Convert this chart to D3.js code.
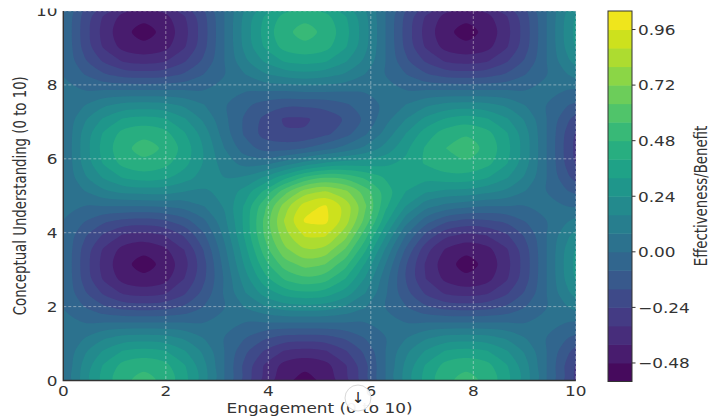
<!DOCTYPE html>
<html>
<head>
<meta charset="utf-8">
<script src="https://cdn.jsdelivr.net/npm/d3@7"></script>
<style>
  body { margin: 0; background: #fff; }
  text { font-family: "DejaVu Sans", sans-serif; fill: #333; }
</style>
</head>
<body>
<svg id="viz" width="711" height="419"></svg>
<script>
// grid positions where the surface was read (steps of pi/8)
const xGrid = [0, 0.393, 0.785, 1.178, 1.571, 1.963, 2.356, 2.749, 3.142, 3.534, 3.927, 4.320, 4.712, 5.105,
  5.498, 5.890, 6.283, 6.676, 7.069, 7.461, 7.854, 8.247, 8.639, 9.032, 9.425, 9.817, 10.21];
const yGrid = [0, 0.393, 0.785, 1.178, 1.571, 1.963, 2.356, 2.749, 3.142, 3.534, 3.927, 4.320, 4.712, 5.105,
  5.498, 5.890, 6.283, 6.676, 7.069, 7.461, 7.854, 8.247, 8.639, 9.032, 9.425, 9.817, 10.21];

// effectiveness values, one row per yGrid entry (bottom row first)
const zRows = [
  [0,.19,.35,.46,.51,.46,.35,.19,0,-.19,-.35,-.46,-.51,-.46,-.35,-.19,0,.19,.35,.46,.51,.46,.35,.19,0,-.19,-.35],
  [0,.18,.33,.43,.46,.43,.33,.18,0,-.18,-.33,-.43,-.46,-.43,-.33,-.18,0,.18,.33,.43,.46,.43,.33,.18,0,-.18,-.33],
  [0,.14,.25,.33,.35,.33,.25,.14,0,-.14,-.25,-.33,-.35,-.33,-.25,-.14,0,.14,.25,.33,.35,.33,.25,.14,0,-.14,-.25],
  [0,.07,.14,.18,.19,.18,.14,.07,0,-.07,-.14,-.18,-.19,-.18,-.14,-.07,0,.07,.14,.18,.19,.18,.14,.07,0,-.07,-.14],
  [0,0,0,0,0,0,0,0,0,0,0,0,0,0,0,0,0,0,0,0,0,0,0,0,0,0,0],
  [0,-.07,-.14,-.18,-.19,-.18,-.14,-.07,0,.08,.14,.19,.20,.19,.14,.08,0,-.07,-.14,-.18,-.19,-.18,-.14,-.07,0,.07,.14],
  [0,-.14,-.25,-.33,-.35,-.33,-.25,-.13,.01,.15,.27,.35,.38,.36,.28,.16,.01,-.13,-.25,-.33,-.35,-.33,-.25,-.14,0,.14,.25],
  [0,-.18,-.33,-.43,-.46,-.43,-.32,-.17,.01,.20,.37,.49,.54,.51,.40,.23,.03,-.16,-.32,-.42,-.46,-.43,-.33,-.18,0,.18,.33],
  [0,-.19,-.35,-.46,-.51,-.46,-.35,-.18,.03,.25,.45,.60,.67,.64,.51,.31,.08,-.15,-.33,-.45,-.51,-.46,-.35,-.19,0,.19,.35],
  [0,-.18,-.33,-.43,-.46,-.42,-.32,-.15,.06,.29,.52,.70,.79,.77,.63,.41,.15,-.09,-.29,-.41,-.46,-.43,-.33,-.18,0,.18,.33],
  [0,-.14,-.25,-.33,-.35,-.32,-.23,-.09,.10,.33,.57,.77,.89,.89,.75,.51,.25,0,-.18,-.30,-.34,-.32,-.25,-.14,0,.14,.25],
  [0,-.07,-.14,-.18,-.19,-.17,-.11,-.01,.14,.34,.58,.81,.97,.98,.84,.61,.35,.12,-.04,-.14,-.18,-.17,-.14,-.07,0,.07,.14],
  [0,0,0,0,0,.01,.03,.08,.17,.33,.54,.76,.92,.97,.85,.65,.42,.24,.11,.05,.02,0,0,0,0,0,0],
  [0,.07,.14,.18,.19,.19,.16,.15,.18,.27,.42,.61,.76,.81,.74,.60,.44,.32,.25,.22,.21,.18,.14,.07,0,-.07,-.14],
  [0,.14,.25,.33,.36,.34,.28,.20,.16,.17,.25,.37,.49,.55,.53,.46,.39,.35,.35,.37,.37,.33,.25,.14,0,-.14,-.25],
  [0,.18,.33,.43,.46,.43,.35,.23,.12,.05,.05,.11,.18,.24,.27,.28,.30,.34,.41,.46,.47,.43,.33,.18,0,-.18,-.33],
  [0,.19,.35,.46,.51,.47,.37,.23,.08,-.04,-.11,-.11,-.08,-.03,.03,.10,.19,.30,.41,.48,.52,.46,.35,.19,0,-.19,-.35],
  [0,.18,.33,.43,.46,.43,.33,.20,.04,-.09,-.19,-.23,-.23,-.18,-.11,-.01,.11,.24,.36,.44,.47,.43,.33,.18,0,-.18,-.33],
  [0,.14,.25,.33,.35,.33,.25,.14,.02,-.09,-.18,-.25,-.25,-.21,-.15,-.06,.05,.16,.26,.33,.36,.33,.25,.14,0,-.14,-.25],
  [0,.07,.14,.18,.19,.18,.14,.08,.01,-.06,-.11,-.14,-.14,-.13,-.09,-.04,.02,.08,.14,.18,.19,.18,.14,.07,0,-.07,-.14],
  [0,0,0,0,0,0,0,0,0,.01,.01,.01,.02,.02,.01,.01,.01,0,0,0,0,0,0,0,0,0,0],
  [0,-.07,-.14,-.18,-.19,-.18,-.14,-.07,0,.07,.14,.18,.20,.18,.14,.07,0,-.07,-.14,-.18,-.19,-.18,-.14,-.07,0,.07,.14],
  [0,-.14,-.25,-.33,-.35,-.33,-.25,-.14,0,.14,.25,.33,.35,.33,.25,.14,0,-.14,-.25,-.33,-.35,-.33,-.25,-.14,0,.14,.25],
  [0,-.18,-.33,-.43,-.46,-.43,-.33,-.18,0,.18,.33,.43,.46,.43,.33,.18,0,-.18,-.33,-.43,-.46,-.43,-.33,-.18,0,.18,.33],
  [0,-.19,-.35,-.46,-.51,-.46,-.35,-.19,0,.19,.35,.46,.51,.46,.35,.19,0,-.19,-.35,-.46,-.51,-.46,-.35,-.19,0,.19,.35],
  [0,-.18,-.33,-.43,-.46,-.43,-.33,-.18,0,.18,.33,.43,.46,.43,.33,.18,0,-.18,-.33,-.43,-.46,-.43,-.33,-.18,0,.18,.33],
  [0,-.14,-.25,-.33,-.35,-.33,-.25,-.14,0,.14,.25,.33,.35,.33,.25,.14,0,-.14,-.25,-.33,-.35,-.33,-.25,-.14,0,.14,.25]
];

const levels = [-0.56, -0.48, -0.40, -0.32, -0.24, -0.16, -0.08, 0, 0.08, 0.16, 0.24,
  0.32, 0.40, 0.48, 0.56, 0.64, 0.72, 0.80, 0.88, 0.96, 1.04];
const cbTicks = [-0.48, -0.24, 0, 0.24, 0.48, 0.72, 0.96];
const axisTicks = [0, 2, 4, 6, 8, 10];

const xTitle = "Engagement (0 to 10)";
const yTitle = "Conceptual Understanding (0 to 10)";
const cbTitle = "Effectiveness/Benefit";

const svg = d3.select("#viz");
const plot = { left: 63.3, right: 575.8, top: 11, bottom: 380.5 };
const SX = 1.27; // picture was stretched sideways, text too

const x = d3.scaleLinear().domain([0, 10]).range([plot.left, plot.right]);
const y = d3.scaleLinear().domain([0, 10]).range([plot.bottom, plot.top]);
const color = d3.scaleSequential(d3.interpolateViridis).domain([levels[0], levels[levels.length - 1]]);

// contour grid -> pixels (d3.contours puts value k at k + 0.5)
const nx = xGrid.length, ny = yGrid.length;
const stepX = xGrid[1] - xGrid[0], stepY = yGrid[1] - yGrid[0];
const gx = (c) => x(xGrid[0] + (c - 0.5) * stepX);
const gy = (c) => y(yGrid[0] + (c - 0.5) * stepY);

const bands = d3.contours().size([nx, ny]).thresholds(levels.slice(0, -1))(zRows.flat());

const ringLine = d3.line().curve(d3.curveCatmullRomClosed.alpha(0.5));
function bandPath(geom) {
  return geom.coordinates
    .map((poly) => poly.map((ring) => ringLine(ring.slice(0, -1).map((p) => [gx(p[0]), gy(p[1])]))).join(""))
    .join("");
}

svg.append("clipPath").attr("id", "plotclip")
  .append("rect")
  .attr("x", plot.left).attr("y", plot.top)
  .attr("width", plot.right - plot.left).attr("height", plot.bottom - plot.top);

const fills = svg.append("g").attr("clip-path", "url(#plotclip)");
fills.selectAll("path")
  .data(bands)
  .enter()
  .append("path")
  .attr("d", (d) => bandPath(d))
  .attr("fill-rule", "evenodd")
  .attr("fill", (d) => {
    const i = levels.indexOf(d.value);
    return color((levels[i] + levels[i + 1]) / 2);
  });

// dashed grid
const grid = svg.append("g")
  .attr("stroke", "#e8e8e8")
  .attr("stroke-opacity", 0.6)
  .attr("stroke-width", 0.8)
  .attr("stroke-dasharray", "3,2");
axisTicks.forEach((t) => {
  grid.append("line").attr("x1", x(t)).attr("x2", x(t)).attr("y1", plot.top).attr("y2", plot.bottom);
  grid.append("line").attr("x1", plot.left).attr("x2", plot.right).attr("y1", y(t)).attr("y2", y(t));
});

// left + bottom spines
svg.append("path")
  .attr("d", `M${plot.left},${plot.top}V${plot.bottom}H${plot.right}`)
  .attr("fill", "none")
  .attr("stroke", "#333")
  .attr("stroke-width", 1.4);

function addText(parent, str, px, py, anchor, rotate) {
  return parent.append("text")
    .attr("transform", `translate(${px},${py}) scale(${SX},1)` + (rotate ? " rotate(-90)" : ""))
    .attr("text-anchor", anchor)
    .attr("dominant-baseline", "central")
    .attr("font-size", 13.3)
    .text(str);
}

// the top "10" is cropped in the original picture
svg.append("clipPath").attr("id", "tickclip")
  .append("rect").attr("x", 0).attr("y", 8.5).attr("width", 711).attr("height", 411);

const labels = svg.append("g");
const yLabels = svg.append("g").attr("clip-path", "url(#tickclip)");
axisTicks.forEach((t) => {
  addText(labels, t, x(t), 391.5, "middle");
  addText(yLabels, t, 57.5, y(t) + 1, "end");
});
addText(labels, xTitle, (plot.left + plot.right) / 2, 409, "middle");
addText(labels, yTitle, 20, (plot.top + plot.bottom) / 2, "middle", true);

// colorbar
const cb = { left: 608, right: 632 };
const cbY = d3.scaleLinear().domain([levels[0], levels[levels.length - 1]]).range([381.5, 11]);
const cbG = svg.append("g");
cbG.selectAll("rect.band")
  .data(levels.slice(0, -1))
  .enter()
  .append("rect")
  .attr("class", "band")
  .attr("x", cb.left)
  .attr("width", cb.right - cb.left)
  .attr("y", (d, i) => cbY(levels[i + 1]))
  .attr("height", (d, i) => cbY(levels[i]) - cbY(levels[i + 1]) + 0.5)
  .attr("fill", (d, i) => color((levels[i] + levels[i + 1]) / 2));
cbG.append("rect")
  .attr("x", cb.left).attr("y", cbY(levels[levels.length - 1]))
  .attr("width", cb.right - cb.left)
  .attr("height", cbY(levels[0]) - cbY(levels[levels.length - 1]))
  .attr("fill", "none")
  .attr("stroke", "#333")
  .attr("stroke-width", 1);
cbTicks.forEach((t) => {
  cbG.append("line")
    .attr("x1", cb.right).attr("x2", cb.right + 3.5)
    .attr("y1", cbY(t)).attr("y2", cbY(t))
    .attr("stroke", "#333");
  addText(cbG, t.toFixed(2).replace("-", "\u2212"), 638, cbY(t) + 1, "start");
});
addText(cbG, cbTitle, 701.5, 196, "middle", true);

// the little download button sitting on the picture
const btn = svg.append("g").attr("transform", "translate(358,398)");
btn.append("circle").attr("r", 13).attr("fill", "#fff").attr("fill-opacity", 0.95)
  .attr("stroke", "#d8d8d8").attr("stroke-width", 1);
btn.append("text").attr("text-anchor", "middle").attr("dominant-baseline", "central")
  .attr("font-size", 15).style("fill", "#222").text("\u2193");
</script>
</body>
</html>
